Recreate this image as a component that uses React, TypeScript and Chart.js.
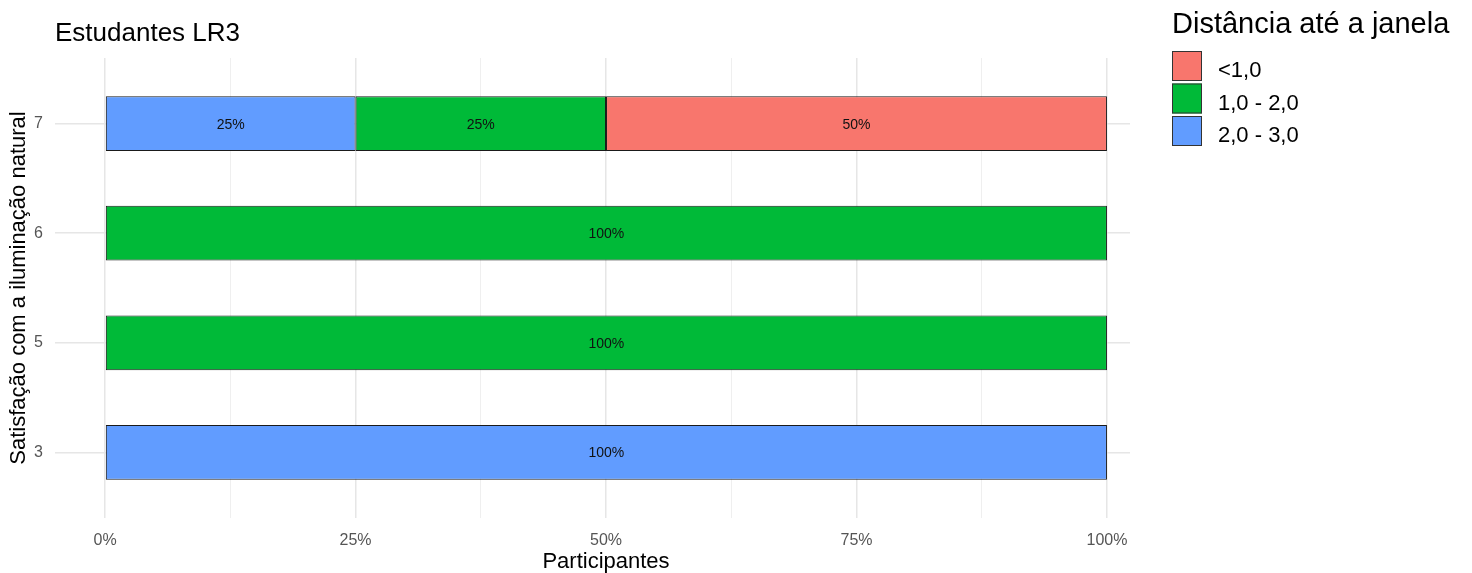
import React, { useEffect, useRef } from 'react';
import { Chart, registerables } from 'chart.js';

Chart.register(...registerables);

const FONT = '"Liberation Sans", Arial, sans-serif';

const chartTitle = 'Estudantes LR3';
const legendTitle = 'Distância até a janela';
const xAxisTitle = 'Participantes';
const yAxisTitle = 'Satisfação com a iluminação natural';

const categories = ['7', '6', '5', '3'];
const seriesNames = ['2,0 - 3,0', '1,0 - 2,0', '<1,0'];
const seriesColors = ['#619CFF', '#00BA38', '#F8766D'];
const values2to3 = [25, 0, 0, 100];
const values1to2 = [25, 100, 100, 0];
const valuesUnder1 = [50, 0, 0, 0];
const seriesValues = [values2to3, values1to2, valuesUnder1];

const majorTicks = [0, 25, 50, 75, 100];
const minorTicks = [12.5, 37.5, 62.5, 87.5];
const legendOrder = [2, 1, 0];

const overlayPlugin = {
  id: 'overlay',
  afterDatasetsDraw(chart: any) {
    const ctx = chart.ctx;
    ctx.save();
    ctx.font = `14px ${FONT}`;
    ctx.fillStyle = '#111';
    ctx.textAlign = 'center';
    ctx.textBaseline = 'middle';
    chart.data.datasets.forEach((ds: any, di: number) => {
      const meta = chart.getDatasetMeta(di);
      meta.data.forEach((el: any, i: number) => {
        const raw = ds.data[i];
        const p = el.getCenterPoint();
        ctx.fillText(`${raw.x}%`, p.x, p.y + 1);
      });
    });
    ctx.restore();
  },
  afterDraw(chart: any) {
    const ctx = chart.ctx;
    const area = chart.chartArea;
    ctx.save();
    ctx.fillStyle = '#000';
    ctx.textAlign = 'left';
    ctx.textBaseline = 'alphabetic';
    ctx.font = `26px ${FONT}`;
    ctx.fillText(chartTitle, area.left, 41);
    // x axis title
    ctx.font = `22px ${FONT}`;
    ctx.textAlign = 'center';
    ctx.fillText(xAxisTitle, 606, 568);
    // legend
    ctx.textAlign = 'left';
    const lx = 1172;
    ctx.font = `29px ${FONT}`;
    ctx.fillText(legendTitle, lx, 33);
    ctx.font = `22px ${FONT}`;
    legendOrder.forEach((si, k) => {
      const top = 51 + k * 32.5;
      ctx.fillStyle = seriesColors[si];
      ctx.fillRect(lx, top, 30, 30);
      ctx.strokeStyle = '#333';
      ctx.lineWidth = 1;
      ctx.strokeRect(lx + 0.5, top + 0.5, 29, 29);
      ctx.fillStyle = '#000';
      ctx.fillText(seriesNames[si], 1218, top + 26);
    });
    ctx.restore();
  },
};

export default function App() {
  const ref = useRef<HTMLCanvasElement | null>(null);

  useEffect(() => {
    if (!ref.current) return;
    const datasets = seriesNames.map((name, si) => ({
      label: name,
      data: categories
        .map((_, i) => ({ x: seriesValues[si][i], y: i }))
        .filter((d) => d.x > 0),
      backgroundColor: seriesColors[si],
      borderColor: '#1a1a1a',
      borderWidth: 1,
      borderSkipped: false as const,
      categoryPercentage: 1,
      barPercentage: 0.5,
    }));

    const chart = new Chart(ref.current, {
      type: 'bar',
      data: { datasets },
      plugins: [overlayPlugin],
      options: {
        indexAxis: 'y',
        animation: false,
        responsive: false,
        layout: { padding: { left: 0, right: 342, top: 58, bottom: 0 } },
        plugins: {
          legend: { display: false },
          title: { display: false },
          tooltip: { enabled: false },
        },
        scales: {
          x: {
            type: 'linear',
            stacked: true,
            min: -5,
            max: 102.3,
            offset: false,
            border: { display: false },
            afterBuildTicks: (scale: any) => {
              scale.ticks = [...majorTicks, ...minorTicks]
                .sort((a, b) => a - b)
                .map((v) => ({ value: v }));
            },
            afterFit: (scale: any) => {
              scale.height = 55;
            },
            ticks: {
              autoSkip: false,
              maxRotation: 0,
              padding: 13,
              color: '#555',
              font: { size: 16, family: FONT },
              callback: (v: any) => (majorTicks.includes(Number(v)) ? `${v}%` : ''),
            },
            grid: {
              offset: false,
              drawTicks: false,
              color: (c: any) => (majorTicks.includes(c.tick?.value) ? '#E6E6E6' : '#EFEFEF'),
              lineWidth: (c: any) => (majorTicks.includes(c.tick?.value) ? 1.5 : 1),
            },
            title: { display: false },
          },
          y: {
            type: 'linear',
            stacked: true,
            reverse: true,
            min: -0.6,
            max: 3.6,
            offset: false,
            border: { display: false },
            afterBuildTicks: (scale: any) => {
              scale.ticks = categories.map((_, i) => ({ value: i }));
            },
            afterFit: (scale: any) => {
              scale.width = 55;
            },
            ticks: {
              autoSkip: false,
              padding: 12,
              color: '#555',
              font: { size: 16, family: FONT },
              callback: (v: any) => categories[Number(v)] ?? '',
            },
            grid: {
              offset: false,
              drawTicks: false,
              color: '#E6E6E6',
              lineWidth: 1.5,
            },
            title: {
              display: true,
              text: yAxisTitle,
              color: '#000',
              font: { size: 22, family: FONT },
              padding: { top: 6, bottom: 0 },
            },
          },
        },
      } as any,
    });
    return () => chart.destroy();
  }, []);

  return (
    <div style={{ position: 'fixed', left: 0, top: 0, width: 1472, height: 573, background: '#fff' }}>
      <canvas ref={ref} width={1472} height={573} />
    </div>
  );
}
